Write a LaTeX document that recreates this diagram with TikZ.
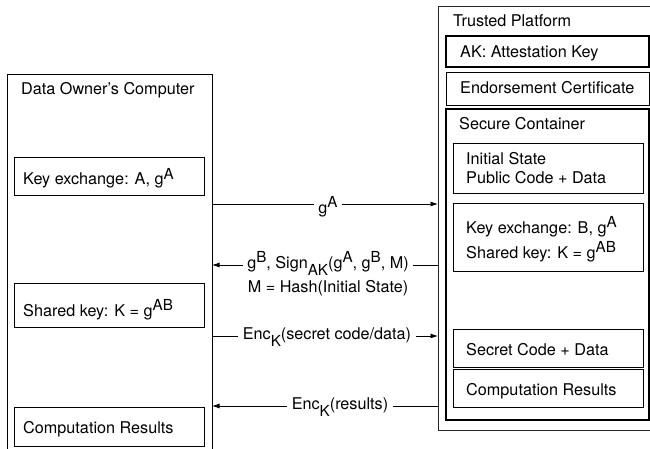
\documentclass[tikz,border=0pt]{standalone}
\usepackage{fontspec}
\setmainfont{TeX Gyre Heros}
\usetikzlibrary{arrows.meta}
\newcommand\mysup[1]{\raisebox{0.35em}{\fontsize{15.2pt}{16pt}\selectfont #1}}
\newcommand\mysub[1]{\raisebox{-0.45em}{\fontsize{15.2pt}{16pt}\selectfont #1}}
\begin{document}
\begin{tikzpicture}[x=1pt,y=-1pt,
  box/.style={draw=black, line width=0.8pt, anchor=north west, inner sep=0pt, outer sep=0pt},
  thickbox/.style={box, line width=1.6pt},
  txt/.style={anchor=base west, inner sep=0pt, font=\fontsize{16.2pt}{19pt}\selectfont},
  lbl/.style={anchor=base, fill=white, inner xsep=4.5pt, inner ysep=1pt, font=\fontsize{16.2pt}{19pt}\selectfont},
  msg/.style={line width=0.8pt, -{Latex[length=7.5pt,width=5pt]}}]
\useasboundingbox (0,0) rectangle (650,449);
\clip (0,0) rectangle (650,449);
% Data owner's computer
\node[box, minimum width=205pt, minimum height=400pt] (owner) at (7,74) {};
\node[txt] (ownert) at (21,95) {Data Owner’s Computer};
\node[box, minimum width=190pt, minimum height=38pt] (keya) at (14,157) {};
\node[txt] (keyat) at (23,185) {Key exchange: A, g\mysup{A}};
\node[box, minimum width=190pt, minimum height=44pt] (shareda) at (14,283) {};
\node[txt] (sharedat) at (23,316) {Shared key: K = g\mysup{AB}};
\node[box, minimum width=190pt, minimum height=39pt] (compa) at (14,407) {};
\node[txt] (compat) at (23,433) {Computation Results};
% Trusted platform
\node[box, draw=black!85, minimum width=222pt, minimum height=424pt] (tp) at (438,6) {};
\node[txt] (tpt) at (453,27) {Trusted Platform};
\node[thickbox, minimum width=203pt, minimum height=31pt] (ak) at (446,36) {};
\node[txt] (akt) at (460,58) {AK: Attestation Key};
\node[box, minimum width=203pt, minimum height=33pt] (ec) at (446,72) {};
\node[txt] (ect) at (460,94) {Endorsement Certificate};
\node[thickbox, minimum width=203pt, minimum height=311pt] (sc) at (446,109) {};
\node[txt] (sct) at (459,130) {Secure Container};
\node[box, minimum width=190pt, minimum height=50pt] (init) at (453,143) {};
\node[txt] (initt1) at (466,165) {Initial State};
\node[txt] (initt2) at (466,183) {Public Code + Data};
\node[box, minimum width=190pt, minimum height=68pt] (keyb) at (453,203) {};
\node[txt] (keybt1) at (466,233) {Key exchange: B, g\mysup{A}};
\node[txt] (keybt2) at (466,258) {Shared key: K = g\mysup{AB}};
\node[box, minimum width=190pt, minimum height=38pt] (secret) at (453,329) {};
\node[txt] (secrett) at (466,355) {Secret Code + Data};
\node[box, minimum width=190pt, minimum height=38pt] (compb) at (453,369) {};
\node[txt] (compbt) at (466,395) {Computation Results};
% messages
\coordinate (y1) at (0,204);
\coordinate (y2) at (0,265);
\coordinate (y3) at (0,336);
\coordinate (y4) at (0,406);
\draw[msg] (owner.east |- y1) -- (tp.west |- y1);
\draw[msg] (tp.west |- y2) -- (owner.east |- y2);
\draw[msg] (owner.east |- y3) -- (tp.west |- y3);
\draw[msg] (tp.west |- y4) -- (owner.east |- y4);
\node[lbl] (m1) at (328,213) {g\mysup{A}};
\node[lbl] (m2) at (328,268) {g\mysup{B}, Sign\mysub{AK}(g\mysup{A}, g\mysup{B}, M)};
\node[txt, anchor=base] (m2b) at (328,292) {M = Hash(Initial State)};
\node[lbl] (m3) at (327,339) {Enc\mysub{K}(secret code/data)};
\node[lbl] (m4) at (340,409) {Enc\mysub{K}(results)};
\end{tikzpicture}
\end{document}
